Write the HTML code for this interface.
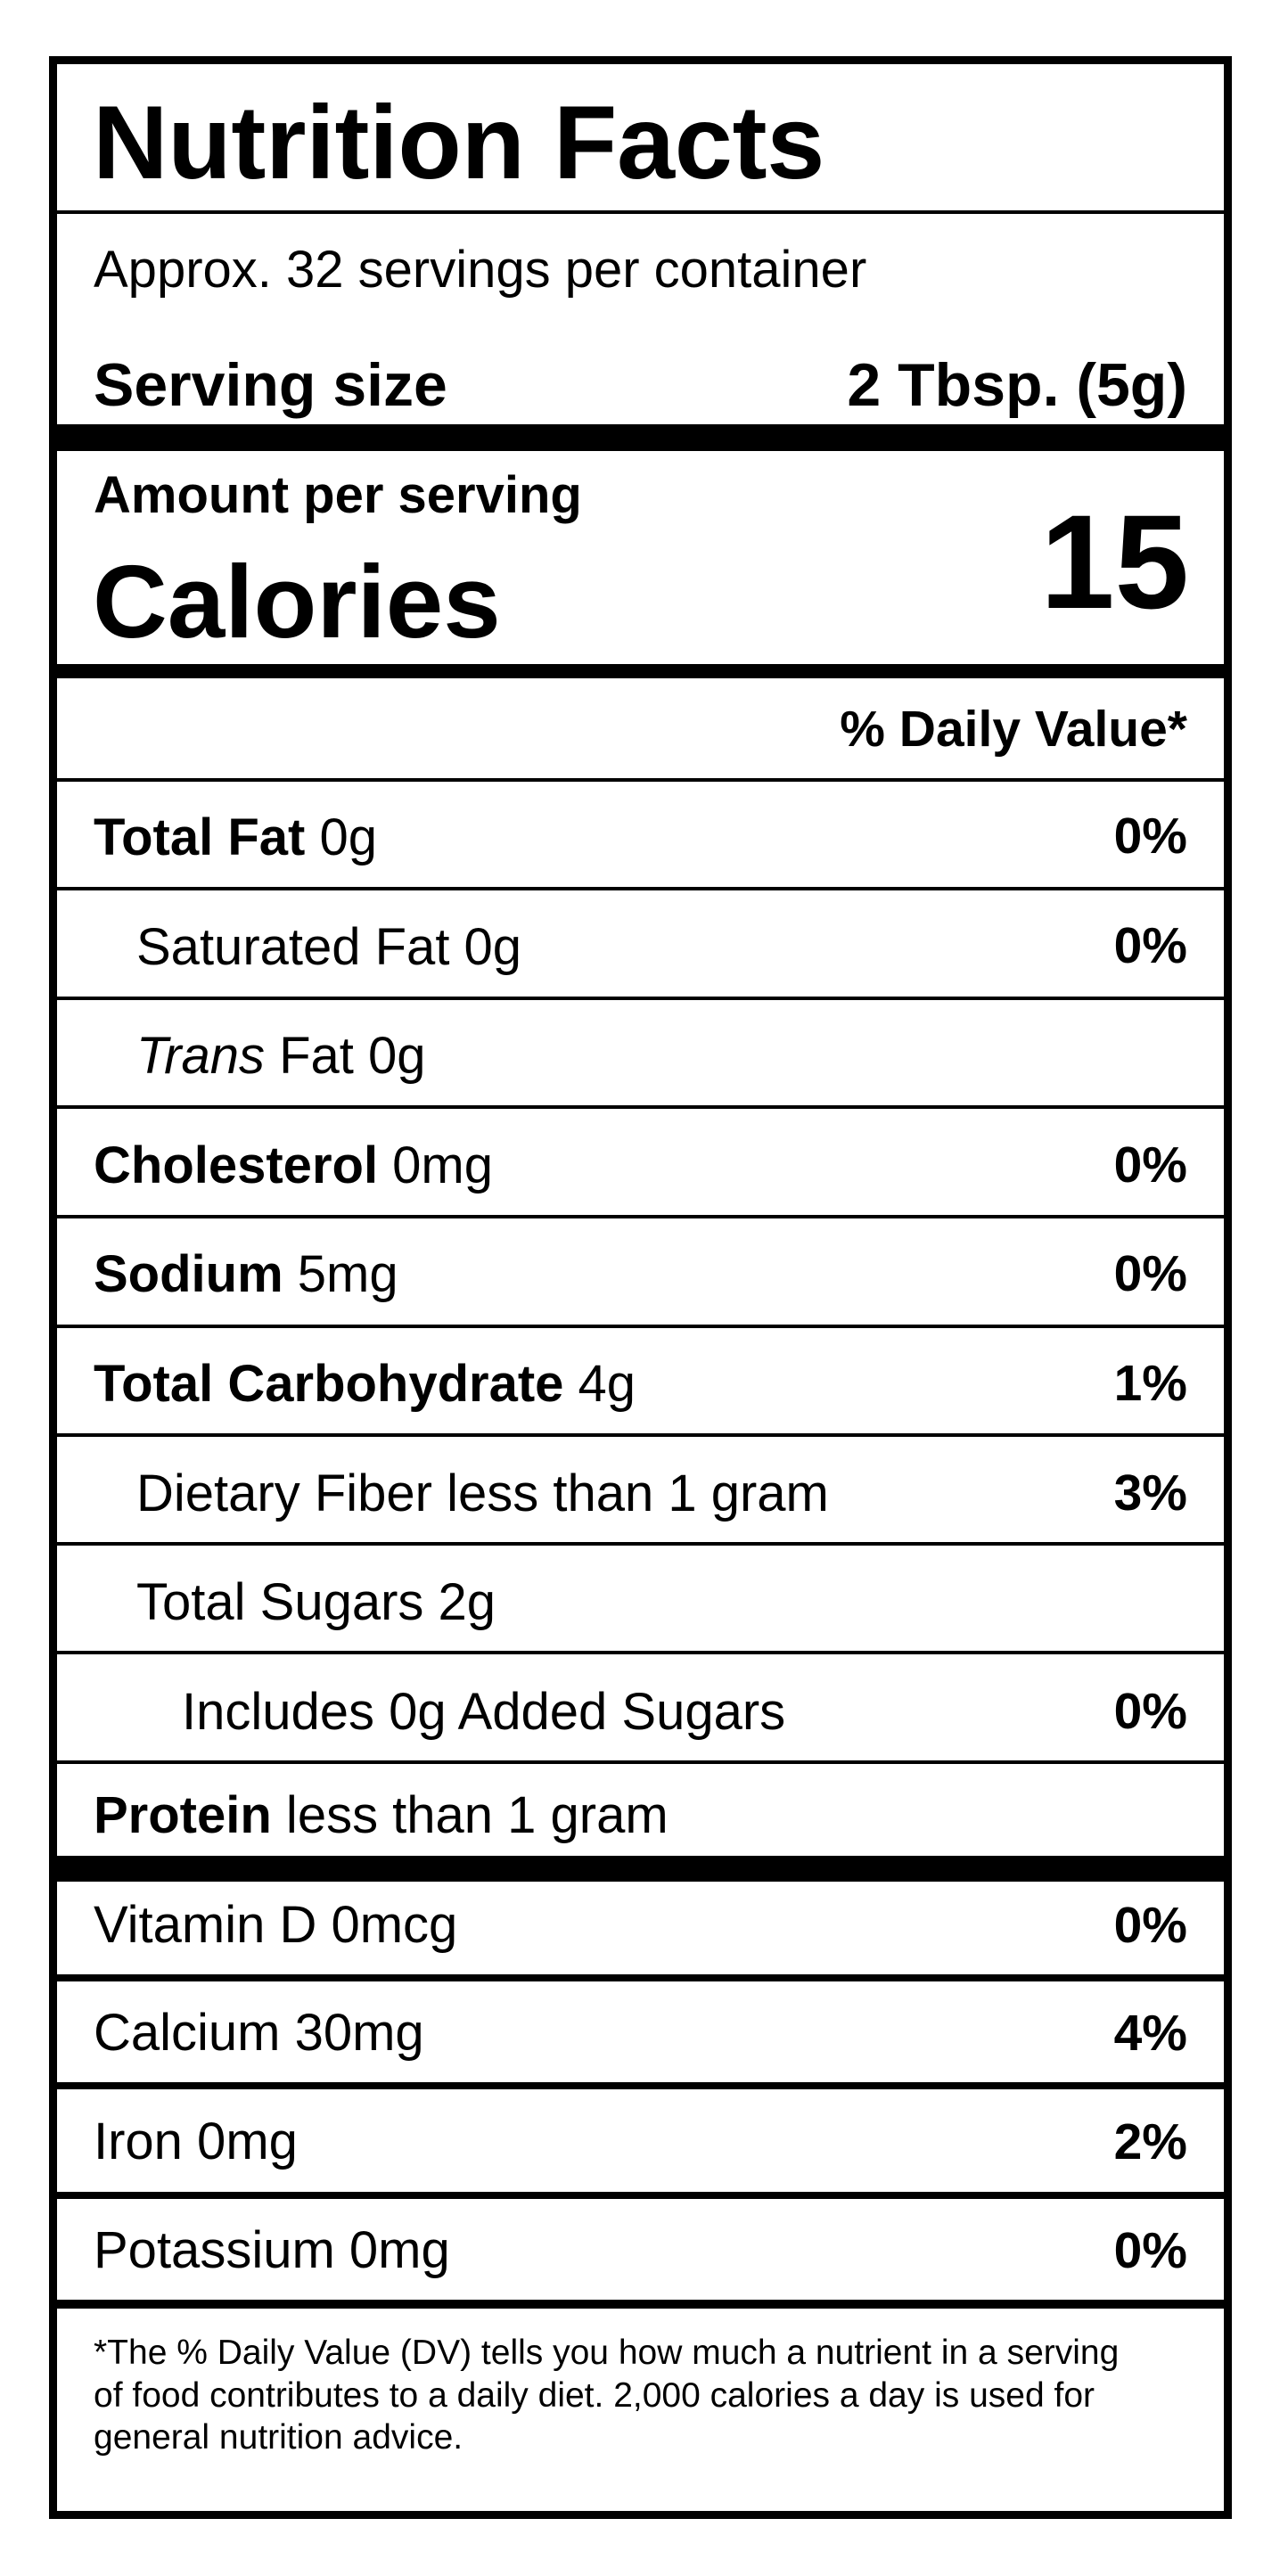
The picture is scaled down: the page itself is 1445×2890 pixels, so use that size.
<!DOCTYPE html>
<html><head><meta charset="utf-8"><style>
html,body{margin:0;padding:0;background:#fff;}
body{width:1445px;height:2890px;position:relative;overflow:hidden;font-family:"Liberation Sans",Arial,sans-serif;color:#000;}
.box{position:absolute;left:55px;top:63px;width:1309px;height:2745px;border:9px solid #000;}
.ln{position:absolute;left:60px;width:1318px;background:#000;}
.t{position:absolute;line-height:1;white-space:nowrap;}
.r{right:113px;font-weight:bold;}
.b{font-weight:bold;}
</style></head><body>
<div class="box"></div>
<div class="ln" style="top:236px;height:4px"></div>
<div class="ln" style="top:476px;height:30px"></div>
<div class="ln" style="top:745px;height:16px"></div>
<div class="ln" style="top:873px;height:4px"></div>
<div class="ln" style="top:995px;height:4px"></div>
<div class="ln" style="top:1118px;height:4px"></div>
<div class="ln" style="top:1240px;height:4px"></div>
<div class="ln" style="top:1363px;height:4px"></div>
<div class="ln" style="top:1486px;height:4px"></div>
<div class="ln" style="top:1608px;height:4px"></div>
<div class="ln" style="top:1730px;height:4px"></div>
<div class="ln" style="top:1852px;height:4px"></div>
<div class="ln" style="top:1975px;height:4px"></div>
<div class="ln" style="top:2082px;height:29px"></div>
<div class="ln" style="top:2215px;height:8px"></div>
<div class="ln" style="top:2336px;height:8px"></div>
<div class="ln" style="top:2459px;height:8px"></div>
<div class="ln" style="top:2580px;height:10px"></div>

<div class="t b" style="left:104px;top:101px;font-size:117px;letter-spacing:-0.3px">Nutrition Facts</div>
<div class="t" style="left:105px;top:274px;font-size:58px">Approx. 32 servings per container</div>
<div class="t b" style="left:105px;top:398px;font-size:68px">Serving size</div>
<div class="t b" style="right:113px;top:398px;font-size:68px">2 Tbsp. (5g)</div>
<div class="t b" style="left:105px;top:527px;font-size:58px">Amount per serving</div>
<div class="t b" style="left:104px;top:617px;font-size:116px">Calories</div>
<div class="t b" style="right:111px;top:555px;font-size:150px">15</div>
<div class="t r" style="top:790px;font-size:57px">% Daily Value*</div>

<div class="t" style="left:105px;top:911px;font-size:58px"><b>Total Fat</b> 0g</div>
<div class="t r" style="top:910px;font-size:57px">0%</div>
<div class="t" style="left:153px;top:1034px;font-size:58px">Saturated Fat 0g</div>
<div class="t r" style="top:1033px;font-size:57px">0%</div>
<div class="t" style="left:153px;top:1156px;font-size:58px"><i>Trans</i> Fat 0g</div>
<div class="t" style="left:105px;top:1279px;font-size:58px"><b>Cholesterol</b> 0mg</div>
<div class="t r" style="top:1279px;font-size:57px">0%</div>
<div class="t" style="left:105px;top:1401px;font-size:58px"><b>Sodium</b> 5mg</div>
<div class="t r" style="top:1401px;font-size:57px">0%</div>
<div class="t" style="left:105px;top:1524px;font-size:58px"><b>Total Carbohydrate</b> 4g</div>
<div class="t r" style="top:1524px;font-size:57px">1%</div>
<div class="t" style="left:153px;top:1647px;font-size:58px">Dietary Fiber less than 1 gram</div>
<div class="t r" style="top:1647px;font-size:57px">3%</div>
<div class="t" style="left:153px;top:1769px;font-size:58px">Total Sugars 2g</div>
<div class="t" style="left:204px;top:1892px;font-size:58px">Includes 0g Added Sugars</div>
<div class="t r" style="top:1892px;font-size:57px">0%</div>
<div class="t" style="left:105px;top:2008px;font-size:58px"><b>Protein</b> less than 1 gram</div>

<div class="t" style="left:105px;top:2131px;font-size:58px">Vitamin D 0mcg</div>
<div class="t r" style="top:2132px;font-size:57px">0%</div>
<div class="t" style="left:105px;top:2252px;font-size:58px">Calcium 30mg</div>
<div class="t r" style="top:2253px;font-size:57px">4%</div>
<div class="t" style="left:105px;top:2374px;font-size:58px">Iron 0mg</div>
<div class="t r" style="top:2375px;font-size:57px">2%</div>
<div class="t" style="left:105px;top:2496px;font-size:58px">Potassium 0mg</div>
<div class="t r" style="top:2497px;font-size:57px">0%</div>

<div class="t" style="left:105px;top:2620px;font-size:39px">*The % Daily Value (DV) tells you how much a nutrient in a serving</div>
<div class="t" style="left:105px;top:2668px;font-size:39px">of food contributes to a daily diet. 2,000 calories a day is used for</div>
<div class="t" style="left:105px;top:2715px;font-size:39px">general nutrition advice.</div>
</body></html>
